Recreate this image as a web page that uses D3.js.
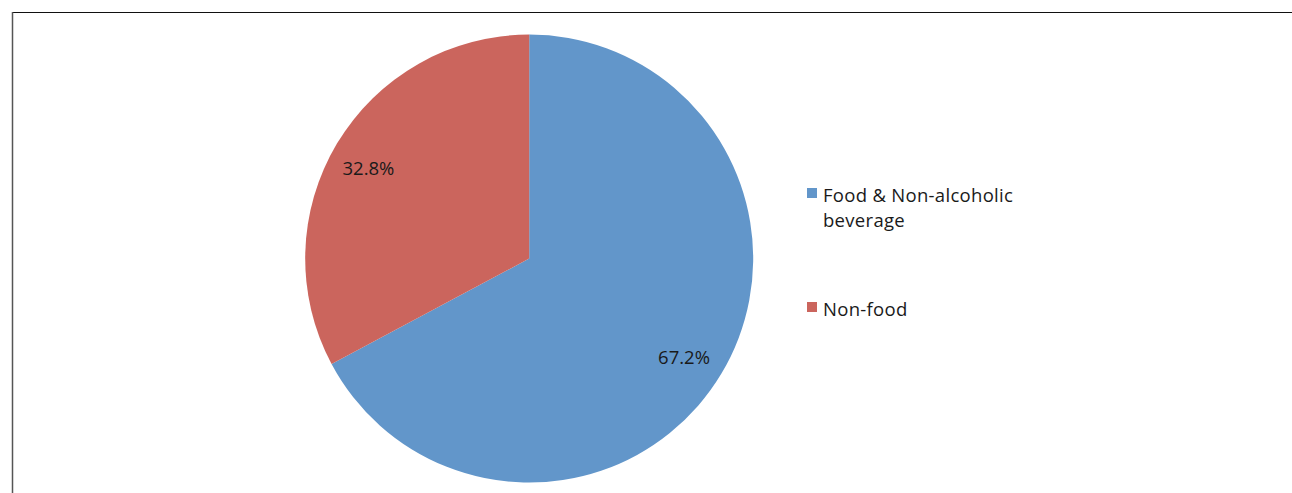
<!DOCTYPE html>
<html>
<head>
<meta charset="utf-8">
<script src="https://cdn.jsdelivr.net/npm/d3@7"></script>
<style>
  html, body { margin: 0; padding: 0; background: #ffffff; }
  svg { display: block; }
</style>
</head>
<body>
<svg id="chart" width="1292" height="493"></svg>
<script>
// Share of household expenditure
const categories = ["Food & Non-alcoholic beverage", "Non-food"];
const legendLines = [["Food & Non-alcoholic", "beverage"], ["Non-food"]];
const values = [67.2, 32.8];
const colors = ["#6296CA", "#CB655D"];

const width = 1292, height = 493;
const svg = d3.select("#chart");
const font = "'Open Sans', 'Liberation Sans', sans-serif";

// chart frame (top and left edges visible)
svg.append("line").attr("x1", 12).attr("x2", width).attr("y1", 12.5).attr("y2", 12.5)
  .attr("stroke", "#111").attr("stroke-width", 1.2);
svg.append("line").attr("x1", 12.5).attr("x2", 12.5).attr("y1", 12).attr("y2", height)
  .attr("stroke", "#555").attr("stroke-width", 1.5);

const cx = 529.2, cy = 258.6, r = 224;

const data = categories.map((c, i) => ({ name: c, value: values[i], color: colors[i] }));

const pie = d3.pie().value(d => d.value).sort(null);
const arcs = pie(data);
const arc = d3.arc().innerRadius(0).outerRadius(r);
const labelArc = d3.arc().innerRadius(184).outerRadius(184);

const g = svg.append("g").attr("transform", `translate(${cx},${cy})`);

g.selectAll("path.slice").data(arcs).join("path")
  .attr("class", "slice")
  .attr("d", arc)
  .attr("fill", d => d.data.color);

g.selectAll("text.pct").data(arcs).join("text")
  .attr("class", "pct")
  .attr("transform", d => {
    const [x, y] = labelArc.centroid(d);
    return `translate(${x - 3},${y + 4.5})`;
  })
  .attr("text-anchor", "middle")
  .attr("dy", "0.35em")
  .attr("font-family", font)
  .attr("font-size", 18.5)
  .attr("fill", "#1a1a1a")
  .text(d => d3.format(".1f")(d.data.value) + "%");

// legend
const legendX = 807, legendYs = [188, 302];
const leg = svg.append("g");
data.forEach((d, i) => {
  leg.append("rect").attr("x", legendX).attr("y", legendYs[i])
    .attr("width", 10).attr("height", 10).attr("fill", d.color);
  const t = leg.append("text")
    .attr("x", legendX + 16).attr("y", legendYs[i] + 13.5)
    .attr("font-family", font).attr("font-size", 18.5)
    .attr("letter-spacing", 0.3).attr("fill", "#1a1a1a");
  legendLines[i].forEach((line, j) => {
    t.append("tspan").attr("x", legendX + 16).attr("dy", j === 0 ? 0 : 25).text(line);
  });
});
</script>
</body>
</html>
